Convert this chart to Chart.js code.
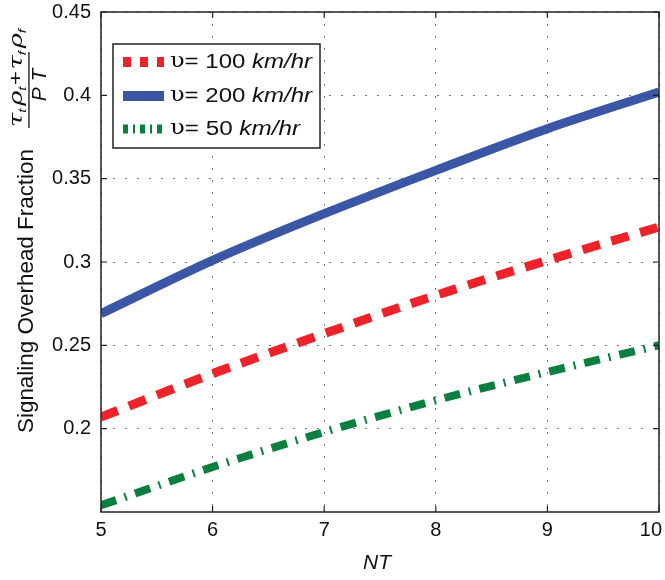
<!DOCTYPE html>
<html>
<head>
<meta charset="utf-8">
<script src="https://cdn.jsdelivr.net/npm/chart.js@4"></script>
<style>
  body { margin: 0; background: #fff; }
  #wrap { width: 665px; height: 580px; position: relative; }
</style>
</head>
<body>
<div id="wrap"><canvas id="chart"></canvas></div>
<script>
const nt = [5, 6, 7, 8, 9, 10];
const v100 = [0.207, 0.233, 0.257, 0.280, 0.301, 0.321];
const v200 = [0.269, 0.301, 0.329, 0.355, 0.380, 0.402];
const v50 = [0.154, 0.177, 0.198, 0.217, 0.234, 0.250];
const xTicks = [5, 6, 7, 8, 9, 10];
const yTicks = [0.2, 0.25, 0.3, 0.35, 0.4, 0.45];
const legendLabels = ['100', '200', '50'];

const SANS = '"Liberation Sans", Arial, sans-serif';
const SERIF = '"DejaVu Serif", serif';
const RED = '#ee2229', BLUE = '#3a56a5', GREEN = '#0a7f3f';

const pts = (ys) => nt.map((x, i) => ({ x, y: ys[i] }));

function runsWidth(ctx, parts) {
  return parts.reduce((w, p) => { ctx.font = p.font; return w + ctx.measureText(p.t).width + (p.gap || 0); }, 0);
}
// draw text runs starting at (x, y), stretched to width w if given
function runs(ctx, x, y, parts, w) {
  const nat = runsWidth(ctx, parts);
  const sx = w ? w / nat : 1;
  ctx.save();
  ctx.translate(x, y);
  ctx.scale(sx, 1);
  let cx = 0;
  parts.forEach((p) => {
    ctx.font = p.font;
    ctx.fillText(p.t, cx, p.dy || 0);
    cx += ctx.measureText(p.t).width + (p.gap || 0);
  });
  ctx.restore();
}

const frame = {
  id: 'frame',
  afterDraw(chart) {
    const { ctx, chartArea: a, scales } = chart;
    ctx.save();
    ctx.strokeStyle = '#222';
    ctx.lineWidth = 1.5;
    ctx.strokeRect(a.left, a.top, a.right - a.left, a.bottom - a.top);
    ctx.lineWidth = 1.2;
    ctx.beginPath();
    xTicks.forEach((v) => {
      const px = scales.x.getPixelForValue(v);
      ctx.moveTo(px, a.bottom); ctx.lineTo(px, a.bottom - 6);
      ctx.moveTo(px, a.top); ctx.lineTo(px, a.top + 6);
    });
    yTicks.forEach((v) => {
      const py = scales.y.getPixelForValue(v);
      ctx.moveTo(a.left, py); ctx.lineTo(a.left + 6, py);
      ctx.moveTo(a.right, py); ctx.lineTo(a.right - 6, py);
    });
    ctx.stroke();

    // x tick labels (last one kept inside the canvas)
    ctx.fillStyle = '#111';
    ctx.font = `20px ${SANS}`;
    ctx.textAlign = 'center';
    ctx.textBaseline = 'top';
    xTicks.forEach((v) => {
      const t = String(v);
      const w = ctx.measureText(t).width;
      const px = Math.min(scales.x.getPixelForValue(v), chart.width - 3 - w / 2);
      ctx.fillText(t, px, a.bottom + 8);
    });

    // x title
    ctx.textBaseline = 'middle';
    ctx.font = `italic 21px ${SANS}`;
    ctx.fillText('NT', 377, 563);

    // y title, rotated
    ctx.save();
    ctx.rotate(-Math.PI / 2);
    ctx.textAlign = 'left';
    ctx.textBaseline = 'alphabetic';
    runs(ctx, -433, 33, [{ t: 'Signaling Overhead Fraction', font: `22px ${SANS}` }], 284);
    const greek = `italic 19px ${SERIF}`;
    const sub = `italic 11px ${SANS}`;
    const num = [
      { t: 'τ', font: greek }, { t: 't', font: sub, dy: 4, gap: 2 },
      { t: 'ρ', font: greek }, { t: 't', font: sub, dy: 4, gap: 1 },
      { t: '+', font: `18px ${SANS}`, gap: 1 },
      { t: 'τ', font: greek }, { t: 'f', font: sub, dy: 4, gap: 2 },
      { t: 'ρ', font: greek }, { t: 'f', font: sub, dy: 4 },
    ];
    runs(ctx, -127, 22, num, 98);
    ctx.fillRect(-128, 28.3, 76, 1.3);
    ctx.font = `italic 21px ${SANS}`;
    ctx.textAlign = 'center';
    ctx.fillText('P T', -85, 46);
    ctx.restore();

    // legend
    const L = { x: 113, y: 44, w: 207, h: 104 };
    ctx.fillStyle = '#fff';
    ctx.fillRect(L.x, L.y, L.w, L.h);
    ctx.strokeStyle = '#222';
    ctx.lineWidth = 1.5;
    ctx.strokeRect(L.x, L.y, L.w, L.h);
    const rows = [62, 96, 129];
    const widths = [142, 142, 130];
    chart.data.datasets.forEach((ds, i) => {
      const y = rows[i];
      ctx.save();
      ctx.strokeStyle = ds.borderColor;
      ctx.lineCap = 'butt';
      ctx.lineWidth = ds.legendWidth;
      ctx.setLineDash(ds.legendDash);
      ctx.beginPath();
      ctx.moveTo(123, y); ctx.lineTo(164, y);
      ctx.stroke();
      ctx.restore();
      ctx.fillStyle = '#111';
      ctx.textAlign = 'left';
      ctx.textBaseline = 'middle';
      runs(ctx, 170, y, [
        { t: 'υ', font: `20px ${SERIF}` },
        { t: '= ' + legendLabels[i] + ' ', font: `20px ${SANS}` },
        { t: 'km/hr', font: `italic 20px ${SANS}` },
      ], widths[i]);
    });
    ctx.restore();
  },
};

new Chart(document.getElementById('chart'), {
  type: 'line',
  data: {
    datasets: [
      {
        label: 'v = 100 km/hr', data: pts(v100), borderColor: RED, borderWidth: 9,
        borderDash: [18, 12], borderCapStyle: 'butt', legendDash: [8, 9], legendWidth: 10,
      },
      {
        label: 'v = 200 km/hr', data: pts(v200), borderColor: BLUE, borderWidth: 9,
        borderCapStyle: 'butt', legendDash: [], legendWidth: 10,
      },
      {
        label: 'v = 50 km/hr', data: pts(v50), borderColor: GREEN, borderWidth: 8,
        borderDash: [16, 9, 2, 9], borderCapStyle: 'butt', legendDash: [5, 5, 2, 5], legendWidth: 9,
      },
    ],
  },
  options: {
    responsive: true,
    maintainAspectRatio: false,
    animation: false,
    layout: { padding: { top: 12, right: 6, left: 0, bottom: 0 } },
    elements: { point: { radius: 0 }, line: { tension: 0.3, cubicInterpolationMode: 'monotone', fill: false } },
    plugins: { legend: { display: false }, tooltip: { enabled: false } },
    scales: {
      x: {
        type: 'linear', min: 5, max: 10,
        afterFit: (s) => { s.height = 68; s.paddingLeft = 0; s.paddingRight = 0; },
        afterBuildTicks: (s) => { s.ticks = xTicks.map((v) => ({ value: v })); },
        grid: { color: '#777', lineWidth: 1, drawTicks: false },
        border: { display: false, dash: [2, 10] },
        ticks: { display: false },
      },
      y: {
        min: 0.15, max: 0.45,
        afterFit: (s) => { s.width = 101; s.paddingTop = 0; s.paddingBottom = 0; },
        afterBuildTicks: (s) => { s.ticks = yTicks.map((v) => ({ value: v })); },
        grid: { color: '#777', lineWidth: 1, drawTicks: false },
        border: { display: false, dash: [2, 10] },
        ticks: {
          padding: 10, color: '#111', font: { family: SANS, size: 20 },
          callback: (v) => String(Math.round(v * 100) / 100),
        },
      },
    },
  },
  plugins: [frame],
});
</script>
</body>
</html>
